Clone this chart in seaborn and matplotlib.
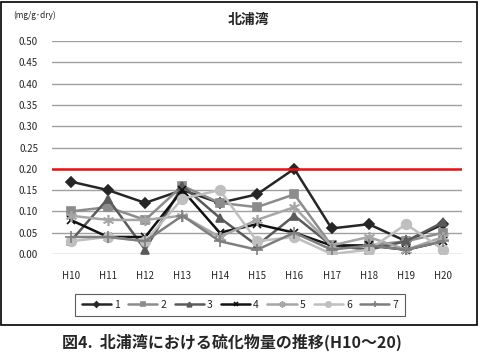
import matplotlib
matplotlib.use("Agg")
import matplotlib.pyplot as plt
import matplotlib.patches as mpatches
import seaborn as sns
import pandas as pd

years = ["H10", "H11", "H12", "H13", "H14", "H15", "H16", "H17", "H18", "H19", "H20"]
s1 = [0.17, 0.15, 0.12, 0.15, 0.12, 0.14, 0.20, 0.06, 0.07, 0.03, 0.07]
s2 = [0.10, 0.11, 0.08, 0.16, 0.12, 0.11, 0.14, 0.02, 0.02, 0.03, 0.05]
s3 = [0.03, 0.13, 0.01, 0.16, 0.085, 0.02, 0.09, 0.02, 0.01, 0.03, 0.075]
s4 = [0.08, 0.04, 0.04, 0.15, 0.05, 0.07, 0.05, 0.02, 0.02, 0.01, 0.03]
s5 = [0.09, 0.08, 0.08, 0.09, 0.04, 0.08, 0.11, 0.02, 0.04, 0.01, 0.04]
s6 = [0.03, 0.04, 0.03, 0.13, 0.15, 0.03, 0.04, 0.00, 0.01, 0.07, 0.01]
s7 = [0.04, 0.04, 0.03, 0.09, 0.03, 0.01, 0.05, 0.01, 0.02, 0.01, 0.03]
series_names = ["1", "2", "3", "4", "5", "6", "7"]
threshold = 0.20

sns.set_theme(style="white")
plt.rcParams["font.family"] = ["Noto Sans CJK JP", "DejaVu Sans"]

fig = plt.figure(figsize=(4.8, 3.56), dpi=100)
ax = fig.add_axes([52/480, 1-254/356, 410/480, 213/356])

styles = [
    dict(color="#262626", marker="D", ms=5),
    dict(color="#8c8c8c", marker="s", ms=6),
    dict(color="#5a5a5a", marker="^", ms=6),
    dict(color="#111111", marker="x", ms=6),
    dict(color="#a6a6a6", marker=(6, 2, 0), ms=8),
    dict(color="#bfbfbf", marker="o", ms=7),
    dict(color="#7f7f7f", marker="+", ms=8),
]
data = [s1, s2, s3, s4, s5, s6, s7]
pos = list(range(len(years)))
for name, vals, st in zip(series_names, data, styles):
    df = pd.DataFrame({"x": pos, "y": vals})
    sns.lineplot(data=df, x="x", y="y", ax=ax, color=st["color"], marker=st["marker"],
                 markersize=st["ms"], markeredgecolor=st["color"], markeredgewidth=1.2,
                 linewidth=1.8, label=name)

ax.axhline(threshold, color="#ee1111", lw=1.8, zorder=5)
ax.set_xlim(-0.5, len(years) - 0.5)
ax.set_ylim(0, 0.5)
ax.set_yticks([i * 0.05 for i in range(11)])
ax.set_yticklabels([f"{i*0.05:.2f}" for i in range(11)], fontsize=7)
ax.set_xticks(pos)
ax.set_xticklabels(years, fontsize=7)
ax.tick_params(axis="both", length=0, pad=10)
ax.tick_params(axis="x", pad=12)
ax.yaxis.grid(True, color="#a0a0a0", lw=1)
ax.set_axisbelow(True)
for sp in ax.spines.values():
    sp.set_visible(False)
ax.set_xlabel("")
ax.set_ylabel("")

handles, labels = ax.get_legend_handles_labels()
ax.legend(handles, labels, loc="center", bbox_to_anchor=(240/480, 1-305/356),
          bbox_transform=fig.transFigure, ncol=7, fontsize=7.5, frameon=True,
          edgecolor="#333333", fancybox=False, handlelength=2.8, columnspacing=0.8,
          handletextpad=0.3, borderpad=0.6, markerscale=0.55)
ax.get_legend().get_frame().set_linewidth(0.8)

fig.text(248/480, 1-20/356, "北浦湾", ha="center", va="center", fontsize=10, fontweight="bold")
fig.text(13/480, 1-15/356, "(mg/g･dry)", ha="left", va="center", fontsize=6,
         family=["Noto Sans CJK JP", "DejaVu Sans"])
fig.patches.append(mpatches.Rectangle((1/480, 1-325/356), 476/480, 323/356, fill=False,
                                      edgecolor="black", lw=1.2, transform=fig.transFigure))
fig.text(232/480, 1-342/356, "図4.  北浦湾における硫化物量の推移(H10～20)", ha="center", va="center",
         fontsize=11.5, fontweight="bold")

fig.savefig("out.png", dpi=100)
